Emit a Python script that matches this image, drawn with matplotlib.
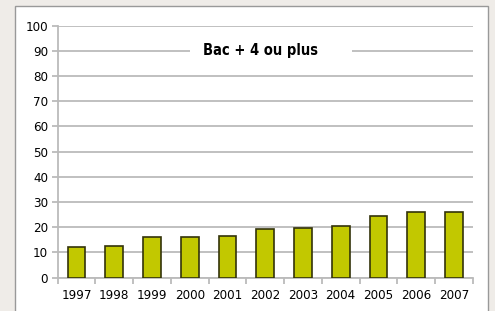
import matplotlib.pyplot as plt
from matplotlib.patches import Rectangle
import numpy as np

plt.rcParams['font.family'] = ['DejaVu Sans']
plt.rcParams['font.stretch'] = 'condensed'

annees = ['1997', '1998', '1999', '2000', '2001', '2002', '2003', '2004', '2005', '2006', '2007']
valeurs = [12.3, 12.7, 16.1, 16.1, 16.7, 19.2, 19.7, 20.5, 24.5, 25.9, 25.9]
titre = 'Bac + 4 ou plus'

GRIS = '#BBBBBB'

fig = plt.figure(figsize=(4.95, 3.11), dpi=100, facecolor='#EFECE8')
# panneau blanc
panneau = Rectangle((0.0297, -0.05), 0.956, 1.0297, transform=fig.transFigure,
                    facecolor='white', edgecolor='#999999', linewidth=1.0, zorder=-10)
fig.add_artist(panneau)

ax = fig.add_axes([0.1166, 0.1071, 0.8384, 0.8103])
ax.set_zorder(1)
ax.set_facecolor('none')

x = np.arange(len(annees))
ax.bar(x, valeurs, width=0.47, color='#C2C800', edgecolor='#33330A', linewidth=1.2, zorder=3)

ax.set_xlim(-0.5, len(annees) - 0.5)
ax.set_ylim(0, 100)
ax.set_yticks(np.arange(0, 101, 10))
ax.yaxis.grid(True, color=GRIS, linewidth=1.3, zorder=0)
ax.set_axisbelow(True)

ax.set_xticks(x)
ax.set_xticklabels(annees, fontsize=9.5)
ax.set_xticks(np.arange(-0.5, len(annees)), minor=True)
ax.tick_params(axis='x', which='major', length=0, pad=8)
ax.tick_params(axis='x', which='minor', length=4, color=GRIS, width=1.3)
ax.tick_params(axis='y', length=4, color=GRIS, width=1.3, labelsize=9.5, pad=3)

for s in ['top', 'right']:
    ax.spines[s].set_visible(False)
ax.spines['left'].set_color(GRIS)
ax.spines['left'].set_linewidth(1.3)
ax.spines['bottom'].set_color(GRIS)
ax.spines['bottom'].set_linewidth(1.3)

# zone blanche autour du titre
ax.add_patch(Rectangle((3.0, 87), 4.3, 6, facecolor='white', edgecolor='none', zorder=1))
ax.text(4.87, 90, titre, ha='center', va='center', fontsize=10.5, fontweight='bold', zorder=4)

fig.savefig('out.png', dpi=100, facecolor=fig.get_facecolor())
